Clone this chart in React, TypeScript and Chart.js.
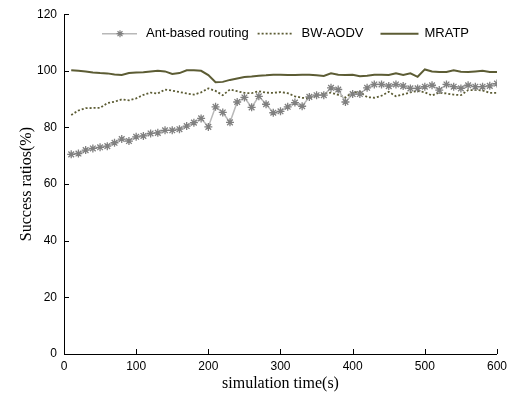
import React, { useEffect, useRef } from "react";
import { Chart, registerables } from "chart.js";

Chart.register(...registerables);

const times = [10, 20, 30, 40, 50, 60, 70, 80, 90, 100, 110, 120, 130, 140, 150, 160, 170, 180, 190, 200,
  210, 220, 230, 240, 250, 260, 270, 280, 290, 300, 310, 320, 330, 340, 350, 360, 370, 380, 390, 400,
  410, 420, 430, 440, 450, 460, 470, 480, 490, 500, 510, 520, 530, 540, 550, 560, 570, 580, 590, 600];

const antBased = [70.5, 70.8, 72, 72.6, 73, 73.4, 74.6, 75.9, 75.2, 76.7, 77, 77.9, 78.1, 79, 79, 79.4, 80.5, 81.7, 83.2, 80.2,
  87.3, 85.3, 81.8, 89, 90.6, 87.1, 91, 88.2, 85.2, 85.7, 87.3, 88.8, 87.5, 90.8, 91.4, 91.4, 94, 93.4, 89, 91.8,
  91.8, 94, 95.2, 95.2, 94.6, 95.2, 94.6, 93.8, 93.8, 94.4, 94.9, 93.2, 95.2, 94.4, 93.8, 94.9, 94.4, 94.4, 94.7, 95.5];

const bwAodv = [84.4, 86, 86.8, 86.9, 86.9, 88.6, 89.1, 89.9, 89.6, 90.3, 91.5, 92.3, 92, 93.4, 93, 92.5, 92, 91.6, 92.4, 93.8,
  92.9, 91.4, 93.4, 92.8, 92.2, 92.1, 92.8, 92.3, 92.2, 92.5, 92.1, 91, 90.5, 90.3, 91.2, 92, 92.3, 91.5, 90.6, 92.4,
  92.6, 90.7, 90.5, 91.2, 92.6, 91, 91.7, 92.4, 92.9, 92.4, 91.3, 92.3, 92, 91.6, 91.4, 93.2, 93.2, 93.1, 92.2, 92.2];

const mratp = [100.2, 100, 99.8, 99.4, 99.2, 99.1, 98.7, 98.5, 99.2, 99.4, 99.5, 99.8, 100, 99.8, 98.9, 99.2, 100.2, 100.2, 100, 98.5,
  96, 96.1, 96.8, 97.3, 97.8, 98, 98.3, 98.4, 98.6, 98.6, 98.5, 98.5, 98.6, 98.6, 98.4, 98.2, 99.1, 98.6, 98.5, 98.6,
  98.1, 98.3, 98.6, 98.6, 98.5, 99.1, 98.5, 99.1, 97.9, 100.5, 99.8, 99.6, 99.6, 100.2, 99.7, 99.6, 99.8, 100, 99.6, 99.6];

const seriesNames = ["Ant-based routing", "BW-AODV", "MRATP"];
const xTitle = "simulation time(s)";
const yTitle = "Success ratios(%)";

const ANT_LINE = "#b8b8b8";
const ANT_MARK = "#808080";
const OLIVE = "#5c5c34";

const insideTicks = {
  id: "insideTicks",
  afterDraw(chart: any) {
    const { ctx, chartArea } = chart;
    const xs = chart.scales.x;
    const ys = chart.scales.y;
    ctx.save();
    ctx.strokeStyle = "#000";
    ctx.lineWidth = 1;
    ctx.beginPath();
    xs.ticks.forEach((t: any) => {
      const px = Math.round(xs.getPixelForValue(t.value)) + 0.5;
      ctx.moveTo(px, chartArea.bottom);
      ctx.lineTo(px, chartArea.bottom - 5);
    });
    ys.ticks.forEach((t: any) => {
      const py = Math.round(ys.getPixelForValue(t.value)) + 0.5;
      ctx.moveTo(chartArea.left, py);
      ctx.lineTo(chartArea.left + 5, py);
    });
    ctx.stroke();
    ctx.restore();
  },
};

const customLegend = {
  id: "customLegend",
  afterDraw(chart: any) {
    const { ctx, chartArea } = chart;
    const y = chartArea.top + 19.5;
    let x = chartArea.left + 38;
    ctx.save();
    ctx.font = "13px 'Liberation Sans', Arial, sans-serif";
    ctx.textBaseline = "middle";
    ctx.fillStyle = "#000";
    // Ant-based
    ctx.strokeStyle = ANT_LINE;
    ctx.lineWidth = 1.5;
    ctx.beginPath();
    ctx.moveTo(x, y);
    ctx.lineTo(x + 35, y);
    ctx.stroke();
    ctx.strokeStyle = ANT_MARK;
    ctx.lineWidth = 1.2;
    const cx = x + 18, r = 3.5;
    ctx.beginPath();
    ctx.moveTo(cx - r, y); ctx.lineTo(cx + r, y);
    ctx.moveTo(cx, y - r); ctx.lineTo(cx, y + r);
    const d = r * 0.707;
    ctx.moveTo(cx - d, y - d); ctx.lineTo(cx + d, y + d);
    ctx.moveTo(cx - d, y + d); ctx.lineTo(cx + d, y - d);
    ctx.stroke();
    x += 44;
    ctx.fillText(seriesNames[0], x, y);
    x += ctx.measureText(seriesNames[0]).width + 9;
    // BW-AODV
    ctx.strokeStyle = OLIVE;
    ctx.lineWidth = 1.8;
    ctx.setLineDash([2, 2]);
    ctx.beginPath();
    ctx.moveTo(x, y);
    ctx.lineTo(x + 35, y);
    ctx.stroke();
    ctx.setLineDash([]);
    x += 44;
    ctx.fillText(seriesNames[1], x, y);
    x += ctx.measureText(seriesNames[1]).width + 17;
    // MRATP
    ctx.strokeStyle = OLIVE;
    ctx.lineWidth = 2;
    ctx.beginPath();
    ctx.moveTo(x, y);
    ctx.lineTo(x + 38, y);
    ctx.stroke();
    x += 44;
    ctx.fillText(seriesNames[2], x, y);
    ctx.restore();
  },
};

export default function App() {
  const canvasRef = useRef<HTMLCanvasElement | null>(null);

  useEffect(() => {
    document.body.style.margin = "0";
    const canvas = canvasRef.current;
    if (!canvas) return;
    const toPts = (vals: number[]) => times.map((t, i) => ({ x: t, y: vals[i] }));
    const chart = new Chart(canvas, {
      type: "line",
      data: {
        datasets: [
          {
            label: seriesNames[0],
            data: toPts(antBased),
            borderColor: ANT_LINE,
            borderWidth: 1.5,
            pointStyle: "star",
            pointRadius: 4,
            pointBorderColor: ANT_MARK,
            pointBackgroundColor: ANT_MARK,
            pointBorderWidth: 1.3,
            tension: 0,
            order: 1,
          },
          {
            label: seriesNames[1],
            data: toPts(bwAodv),
            borderColor: OLIVE,
            borderWidth: 1.8,
            borderDash: [2, 2],
            pointRadius: 0,
            tension: 0,
            order: 2,
          },
          {
            label: seriesNames[2],
            data: toPts(mratp),
            borderColor: OLIVE,
            borderWidth: 2,
            pointRadius: 0,
            tension: 0,
            order: 3,
          },
        ],
      },
      options: {
        animation: false,
        responsive: false,
        maintainAspectRatio: false,
        layout: { padding: { left: 0, top: 14, right: 15, bottom: 0 } },
        plugins: {
          legend: { display: false },
          tooltip: { enabled: false },
        },
        scales: {
          x: {
            type: "linear",
            min: 0,
            max: 600,
            grid: { drawOnChartArea: false, drawTicks: false },
            border: { display: true, color: "#000", width: 1 },
            ticks: {
              stepSize: 100,
              padding: 5,
              color: "#000",
              font: { family: "'Liberation Sans', Arial, sans-serif", size: 12 },
              maxRotation: 0,
            },
            title: {
              display: true,
              text: xTitle,
              color: "#000",
              font: { family: "'Liberation Serif', 'Times New Roman', serif", size: 16 },
              padding: { top: 0, bottom: 4 },
            },
            afterFit: (s: any) => { s.height = 43; },
          },
          y: {
            min: 0,
            max: 120,
            grid: { drawOnChartArea: false, drawTicks: false },
            border: { display: true, color: "#000", width: 1 },
            ticks: {
              stepSize: 20,
              padding: 7,
              color: "#000",
              font: { family: "'Liberation Sans', Arial, sans-serif", size: 12 },
            },
            title: {
              display: true,
              text: yTitle,
              color: "#000",
              font: { family: "'Liberation Serif', 'Times New Roman', serif", size: 16 },
              padding: { top: 17, bottom: 0 },
            },
            afterFit: (s: any) => { s.width = 64; },
          },
        },
      },
      plugins: [insideTicks, customLegend],
    });
    return () => chart.destroy();
  }, []);

  return (
    <div style={{ width: 512, height: 397, background: "#fff" }}>
      <canvas ref={canvasRef} width={512} height={397} style={{ display: "block" }} />
    </div>
  );
}
